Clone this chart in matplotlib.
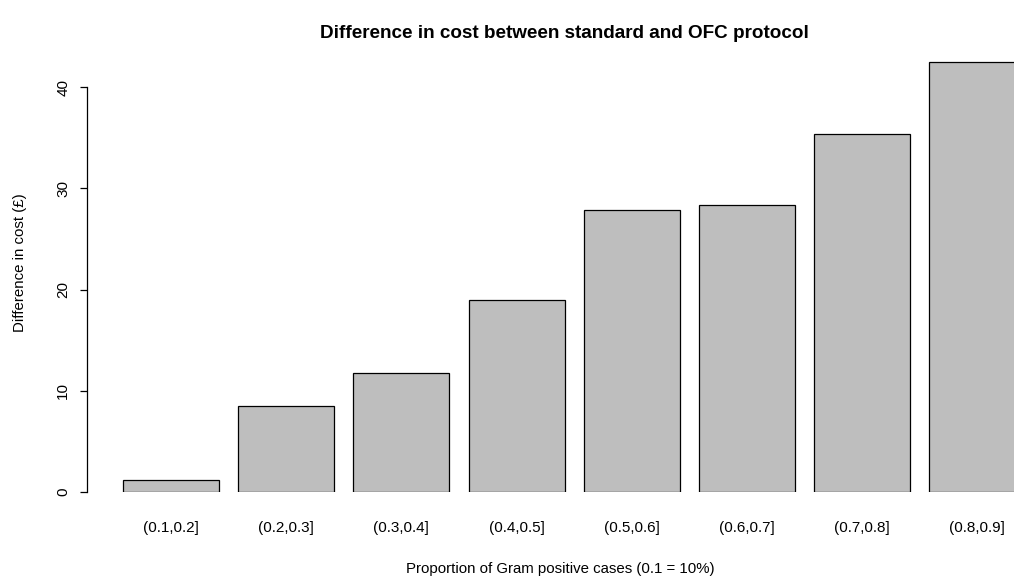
import matplotlib
matplotlib.use("Agg")
import matplotlib.pyplot as plt

plt.rcParams['font.family'] = ['Liberation Sans', 'DejaVu Sans']

categories = ["(0.1,0.2]", "(0.2,0.3]", "(0.3,0.4]", "(0.4,0.5]",
              "(0.5,0.6]", "(0.6,0.7]", "(0.7,0.8]", "(0.8,0.9]"]
cost_diff = [1.2, 8.5, 11.8, 19.0, 27.9, 28.3, 35.4, 42.5]

# R barplot style positions: width 1, space 0.2
xpos = [0.7 + 1.2 * i for i in range(len(categories))]

fig = plt.figure(figsize=(10.14, 5.78), dpi=100)
ax = fig.add_axes([87 / 1014, 86 / 578, 1 - 87 / 1014, (492 - 50) / 578])

ax.bar(xpos, cost_diff, width=1.0, color="#BEBEBE", edgecolor="black", linewidth=0.9)

ax.set_xlim(-0.175, (1014 - 103.8) / 96)
ax.set_ylim(0, (492 - 50) / 10.125)

for s in ["top", "right", "bottom"]:
    ax.spines[s].set_visible(False)
ax.spines["left"].set_bounds(0, 40)
ax.spines["left"].set_linewidth(0.9)

ax.set_yticks([0, 10, 20, 30, 40])
ax.set_yticklabels(["0", "10", "20", "30", "40"], rotation=90, va="center", fontsize=11)
ax.tick_params(axis="y", length=5, width=0.9, pad=7)

ax.set_xticks(xpos)
ax.set_xticklabels(categories, fontsize=11)
ax.tick_params(axis="x", length=0, pad=21)

fig.text(564 / 1014, 1 - 33 / 578, "Difference in cost between standard and OFC protocol",
         ha="center", va="center", fontsize=13.6, fontweight="bold")
fig.text(560 / 1014, 1 - 569 / 578, "Proportion of Gram positive cases (0.1 = 10%)",
         ha="center", va="center", fontsize=10.8)
fig.text(20 / 1014, 1 - 263 / 578, "Difference in cost (£)",
         ha="center", va="center", rotation=90, fontsize=10.8)

fig.savefig("out.png", dpi=100)
